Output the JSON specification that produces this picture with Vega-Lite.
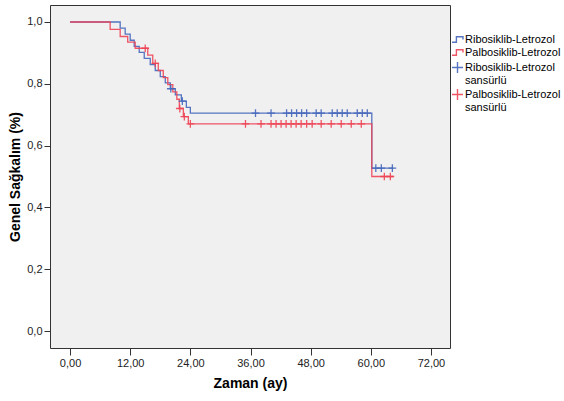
{
  "$schema": "https://vega.github.io/schema/vega-lite/v6.json",
  "width": 400,
  "height": 343,
  "autosize": {"type": "none"},
  "padding": {"left": 50, "top": 5, "right": 114, "bottom": 53},
  "background": "white",
  "config": {
    "font": "Liberation Sans",
    "view": {"fill": "#F0F0F0", "stroke": "#333333", "strokeWidth": 1},
    "axis": {
      "grid": false,
      "domain": false,
      "labelFont": "Liberation Sans",
      "labelFontSize": 11,
      "labelColor": "#222222",
      "tickColor": "#333333",
      "titleFont": "Liberation Sans",
      "titleFontWeight": "bold",
      "titleFontSize": 14,
      "titleColor": "#000000"
    },
    "legend": {
      "orient": "none",
      "legendX": 401,
      "legendY": 28,
      "padding": 0,
      "symbolSize": 120,
      "symbolStrokeWidth": 1.4,
      "labelFont": "Liberation Sans",
      "labelFontSize": 11,
      "labelColor": "#000000",
      "labelLimit": 200,
      "rowPadding": 0,
      "labelOffset": 1
    }
  },
  "datasets": {
    "curves": [
      {"grup": "Ribosiklib-Letrozol", "t": 0, "s": 1.0},
      {"grup": "Ribosiklib-Letrozol", "t": 10, "s": 0.980},
      {"grup": "Ribosiklib-Letrozol", "t": 11, "s": 0.961},
      {"grup": "Ribosiklib-Letrozol", "t": 12, "s": 0.941},
      {"grup": "Ribosiklib-Letrozol", "t": 12.8, "s": 0.921},
      {"grup": "Ribosiklib-Letrozol", "t": 13.8, "s": 0.902},
      {"grup": "Ribosiklib-Letrozol", "t": 14.8, "s": 0.882},
      {"grup": "Ribosiklib-Letrozol", "t": 16, "s": 0.862},
      {"grup": "Ribosiklib-Letrozol", "t": 17, "s": 0.843},
      {"grup": "Ribosiklib-Letrozol", "t": 18, "s": 0.823},
      {"grup": "Ribosiklib-Letrozol", "t": 19, "s": 0.803},
      {"grup": "Ribosiklib-Letrozol", "t": 20, "s": 0.784},
      {"grup": "Ribosiklib-Letrozol", "t": 21, "s": 0.764},
      {"grup": "Ribosiklib-Letrozol", "t": 22.2, "s": 0.744},
      {"grup": "Ribosiklib-Letrozol", "t": 23.2, "s": 0.724},
      {"grup": "Ribosiklib-Letrozol", "t": 24, "s": 0.705},
      {"grup": "Ribosiklib-Letrozol", "t": 60.2, "s": 0.527},
      {"grup": "Ribosiklib-Letrozol", "t": 64.5, "s": 0.527},
      {"grup": "Palbosiklib-Letrozol", "t": 0, "s": 1.0},
      {"grup": "Palbosiklib-Letrozol", "t": 8, "s": 0.976},
      {"grup": "Palbosiklib-Letrozol", "t": 10, "s": 0.953},
      {"grup": "Palbosiklib-Letrozol", "t": 11.5, "s": 0.935},
      {"grup": "Palbosiklib-Letrozol", "t": 13, "s": 0.915},
      {"grup": "Palbosiklib-Letrozol", "t": 15.5, "s": 0.893},
      {"grup": "Palbosiklib-Letrozol", "t": 16.5, "s": 0.866},
      {"grup": "Palbosiklib-Letrozol", "t": 17.6, "s": 0.843},
      {"grup": "Palbosiklib-Letrozol", "t": 18.6, "s": 0.820},
      {"grup": "Palbosiklib-Letrozol", "t": 19.5, "s": 0.797},
      {"grup": "Palbosiklib-Letrozol", "t": 20.5, "s": 0.774},
      {"grup": "Palbosiklib-Letrozol", "t": 21.3, "s": 0.750},
      {"grup": "Palbosiklib-Letrozol", "t": 21.8, "s": 0.720},
      {"grup": "Palbosiklib-Letrozol", "t": 22.6, "s": 0.694},
      {"grup": "Palbosiklib-Letrozol", "t": 23.6, "s": 0.670},
      {"grup": "Palbosiklib-Letrozol", "t": 60.2, "s": 0.500},
      {"grup": "Palbosiklib-Letrozol", "t": 64.5, "s": 0.500}
    ],
    "censored": [
      {"grup": "Ribosiklib-Letrozol sansürlü", "t": 20.1, "s": 0.784},
      {"grup": "Ribosiklib-Letrozol sansürlü", "t": 22.4, "s": 0.744},
      {"grup": "Ribosiklib-Letrozol sansürlü", "t": 37, "s": 0.705},
      {"grup": "Ribosiklib-Letrozol sansürlü", "t": 40.1, "s": 0.705},
      {"grup": "Ribosiklib-Letrozol sansürlü", "t": 43.2, "s": 0.705},
      {"grup": "Ribosiklib-Letrozol sansürlü", "t": 44.2, "s": 0.705},
      {"grup": "Ribosiklib-Letrozol sansürlü", "t": 45.2, "s": 0.705},
      {"grup": "Ribosiklib-Letrozol sansürlü", "t": 46.2, "s": 0.705},
      {"grup": "Ribosiklib-Letrozol sansürlü", "t": 47.2, "s": 0.705},
      {"grup": "Ribosiklib-Letrozol sansürlü", "t": 49.1, "s": 0.705},
      {"grup": "Ribosiklib-Letrozol sansürlü", "t": 50.1, "s": 0.705},
      {"grup": "Ribosiklib-Letrozol sansürlü", "t": 52.3, "s": 0.705},
      {"grup": "Ribosiklib-Letrozol sansürlü", "t": 53.3, "s": 0.705},
      {"grup": "Ribosiklib-Letrozol sansürlü", "t": 54.3, "s": 0.705},
      {"grup": "Ribosiklib-Letrozol sansürlü", "t": 55.3, "s": 0.705},
      {"grup": "Ribosiklib-Letrozol sansürlü", "t": 57.3, "s": 0.705},
      {"grup": "Ribosiklib-Letrozol sansürlü", "t": 58.3, "s": 0.705},
      {"grup": "Ribosiklib-Letrozol sansürlü", "t": 59.3, "s": 0.705},
      {"grup": "Ribosiklib-Letrozol sansürlü", "t": 61, "s": 0.527},
      {"grup": "Ribosiklib-Letrozol sansürlü", "t": 62.1, "s": 0.527},
      {"grup": "Ribosiklib-Letrozol sansürlü", "t": 64.3, "s": 0.527},
      {"grup": "Palbosiklib-Letrozol sansürlü", "t": 15, "s": 0.915},
      {"grup": "Palbosiklib-Letrozol sansürlü", "t": 17, "s": 0.866},
      {"grup": "Palbosiklib-Letrozol sansürlü", "t": 21.9, "s": 0.720},
      {"grup": "Palbosiklib-Letrozol sansürlü", "t": 22.8, "s": 0.694},
      {"grup": "Palbosiklib-Letrozol sansürlü", "t": 24, "s": 0.670},
      {"grup": "Palbosiklib-Letrozol sansürlü", "t": 35, "s": 0.670},
      {"grup": "Palbosiklib-Letrozol sansürlü", "t": 38.1, "s": 0.670},
      {"grup": "Palbosiklib-Letrozol sansürlü", "t": 40.1, "s": 0.670},
      {"grup": "Palbosiklib-Letrozol sansürlü", "t": 41.1, "s": 0.670},
      {"grup": "Palbosiklib-Letrozol sansürlü", "t": 42.1, "s": 0.670},
      {"grup": "Palbosiklib-Letrozol sansürlü", "t": 43.1, "s": 0.670},
      {"grup": "Palbosiklib-Letrozol sansürlü", "t": 44.1, "s": 0.670},
      {"grup": "Palbosiklib-Letrozol sansürlü", "t": 45.1, "s": 0.670},
      {"grup": "Palbosiklib-Letrozol sansürlü", "t": 46.1, "s": 0.670},
      {"grup": "Palbosiklib-Letrozol sansürlü", "t": 47.2, "s": 0.670},
      {"grup": "Palbosiklib-Letrozol sansürlü", "t": 48.3, "s": 0.670},
      {"grup": "Palbosiklib-Letrozol sansürlü", "t": 50.1, "s": 0.670},
      {"grup": "Palbosiklib-Letrozol sansürlü", "t": 52.1, "s": 0.670},
      {"grup": "Palbosiklib-Letrozol sansürlü", "t": 54.1, "s": 0.670},
      {"grup": "Palbosiklib-Letrozol sansürlü", "t": 56.1, "s": 0.670},
      {"grup": "Palbosiklib-Letrozol sansürlü", "t": 58.1, "s": 0.670},
      {"grup": "Palbosiklib-Letrozol sansürlü", "t": 62.7, "s": 0.500},
      {"grup": "Palbosiklib-Letrozol sansürlü", "t": 63.9, "s": 0.500}
    ]
  },
  "layer": [
    {
      "data": {"name": "curves"},
      "mark": {"type": "line", "interpolate": "step-after", "strokeWidth": 1.3, "opacity": 0.9},
      "encoding": {
        "x": {
          "field": "t", "type": "quantitative",
          "scale": {"domain": [-4, 75.8], "nice": false, "zero": false},
          "axis": {
            "values": [0, 12, 24, 36, 48, 60, 72],
            "labelExpr": "replace(format(datum.value, '.2f'), '.', ',')",
            "tickSize": 7, "labelPadding": 2,
            "title": "Zaman (ay)", "titlePadding": 8
          }
        },
        "y": {
          "field": "s", "type": "quantitative",
          "scale": {"domain": [-0.055, 1.055], "nice": false, "zero": false},
          "axis": {
            "values": [0, 0.2, 0.4, 0.6, 0.8, 1.0],
            "labelExpr": "replace(format(datum.value, '.1f'), '.', ',')",
            "tickSize": 6, "labelPadding": 2,
            "title": "Genel Sağkalım (%)", "titlePadding": 4
          }
        },
        "color": {
          "field": "grup", "type": "nominal",
          "scale": {
            "domain": ["Ribosiklib-Letrozol", "Palbosiklib-Letrozol", "Ribosiklib-Letrozol sansürlü", "Palbosiklib-Letrozol sansürlü"],
            "range": ["#4466BB", "#EE4455", "#4466BB", "#EE4455"]
          },
          "legend": {
            "title": null,
            "labelExpr": "indexof(datum.label, ' sansürlü') > 0 ? [replace(datum.label, ' sansürlü', ''), 'sansürlü'] : datum.label"
          }
        }
      }
    },
    {
      "data": {"name": "censored"},
      "mark": {"type": "point", "filled": false, "size": 60, "strokeWidth": 1.3, "opacity": 0.9},
      "encoding": {
        "x": {"field": "t", "type": "quantitative"},
        "y": {"field": "s", "type": "quantitative"},
        "color": {
          "field": "grup", "type": "nominal",
          "scale": {
            "domain": ["Ribosiklib-Letrozol", "Palbosiklib-Letrozol", "Ribosiklib-Letrozol sansürlü", "Palbosiklib-Letrozol sansürlü"],
            "range": ["#4466BB", "#EE4455", "#4466BB", "#EE4455"]
          },
          "legend": {
            "title": null,
            "labelExpr": "indexof(datum.label, ' sansürlü') > 0 ? [replace(datum.label, ' sansürlü', ''), 'sansürlü'] : datum.label"
          }
        },
        "shape": {
          "field": "grup", "type": "nominal",
          "scale": {
            "domain": ["Ribosiklib-Letrozol", "Palbosiklib-Letrozol", "Ribosiklib-Letrozol sansürlü", "Palbosiklib-Letrozol sansürlü"],
            "range": ["M-1,0.5H-0.2V-0.5H1V0", "M-1,0.5H-0.2V-0.5H1V0", "M-1,0H1M0,-1V1", "M-1,0H1M0,-1V1"]
          },
          "legend": {
            "title": null,
            "labelExpr": "indexof(datum.label, ' sansürlü') > 0 ? [replace(datum.label, ' sansürlü', ''), 'sansürlü'] : datum.label"
          }
        }
      }
    }
  ]
}
